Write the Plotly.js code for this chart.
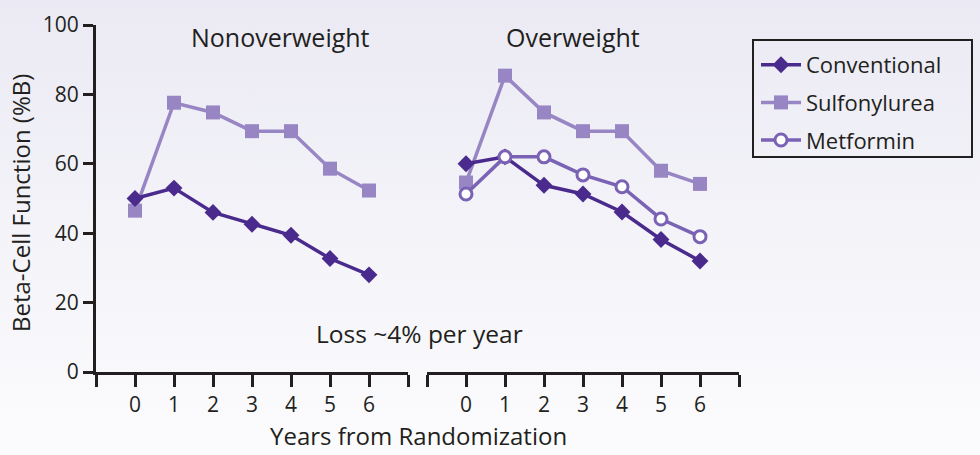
<!DOCTYPE html>
<html>
<head>
<meta charset="utf-8">
<script src="https://cdn.plot.ly/plotly-3.0.1.min.js"></script>
<style>
  html, body { margin: 0; padding: 0; }
  body { width: 980px; height: 455px; background: linear-gradient(to bottom, #ebeaf4 0%, #f4f4f9 55%, #fcfcfe 100%); }
  #chart { width: 980px; height: 455px; }
</style>
</head>
<body>
<div id="chart"></div>
<script>
// ---- data ----
const years = [0, 1, 2, 3, 4, 5, 6];
const tickVals = [-1, 0, 1, 2, 3, 4, 5, 6, 7];
const tickText = ['', '0', '1', '2', '3', '4', '5', '6', ''];
const yTicks = [0, 20, 40, 60, 80, 100];

const nonOverConventional = [50, 53, 46, 42.6, 39.4, 32.7, 28];
const nonOverSulfonylurea = [46.5, 77.6, 74.8, 69.4, 69.4, 58.6, 52.3];

const overConventional = [60, 62, 53.8, 51.3, 46.1, 38.2, 32];
const overSulfonylurea = [54.6, 85.4, 74.8, 69.4, 69.4, 58, 54.2];
const overMetformin = [51.3, 62, 62, 56.8, 53.4, 44.1, 39];

const seriesNames = ['Conventional', 'Sulfonylurea', 'Metformin'];
const panelTitles = ['Nonoverweight', 'Overweight'];
const noteText = 'Loss ~4% per year';
const xTitle = 'Years from Randomization';
const yTitle = 'Beta-Cell Function (%B)';

// ---- styles ----
const cConv = '#4a2a8c';
const cSulf = '#9886c4';
const cMet = '#7a62b4';
const ink = '#231f20';
const FONT = '"Open Sans", "Noto Sans", sans-serif';

const styConv = { mode: 'lines+markers', line: { color: cConv, width: 3.5 }, marker: { symbol: 'diamond', size: 13, color: cConv } };
const stySulf = { mode: 'lines+markers', line: { color: cSulf, width: 3.5 }, marker: { symbol: 'square', size: 14, color: cSulf } };
const styMet = { mode: 'lines+markers', line: { color: cMet, width: 3.5 }, marker: { symbol: 'circle', size: 12, color: '#ffffff', line: { color: cMet, width: 3 } } };

const traces = [
  Object.assign({ x: years, y: nonOverSulfonylurea, xaxis: 'x', yaxis: 'y', name: seriesNames[1], legendgroup: 's', legendrank: 2 }, stySulf),
  Object.assign({ x: years, y: nonOverConventional, xaxis: 'x', yaxis: 'y', name: seriesNames[0], legendgroup: 'c', legendrank: 1 }, styConv),
  Object.assign({ x: years, y: overSulfonylurea, xaxis: 'x2', yaxis: 'y', name: seriesNames[1], legendgroup: 's', showlegend: false }, stySulf),
  Object.assign({ x: years, y: overConventional, xaxis: 'x2', yaxis: 'y', name: seriesNames[0], legendgroup: 'c', showlegend: false }, styConv),
  Object.assign({ x: years, y: overMetformin, xaxis: 'x2', yaxis: 'y', name: seriesNames[2], legendgroup: 'm', legendrank: 3 }, styMet)
];

const W = 980, H = 455;
const L = 96, R = 241, T = 25, B = 83;
const pw = W - L - R, ph = H - T - B;
const px = v => (v - L) / pw;
const py = v => (H - B - v) / ph;

const xCommon = {
  range: [-1, 7], tickvals: tickVals, ticktext: tickText,
  showline: true, linewidth: 3, linecolor: ink,
  ticks: 'outside', ticklen: 12, tickwidth: 3, tickcolor: ink,
  showgrid: false, zeroline: false, fixedrange: true,
  tickfont: { family: FONT, size: 21, color: ink }
};

const layout = {
  width: W, height: H,
  margin: { l: L, r: R, t: T, b: B },
  paper_bgcolor: 'rgba(0,0,0,0)', plot_bgcolor: 'rgba(0,0,0,0)',
  font: { family: FONT, color: ink },
  xaxis: Object.assign({ domain: [0, px(408)], anchor: 'y' }, xCommon),
  xaxis2: Object.assign({ domain: [px(427), 1], anchor: 'y' }, xCommon),
  yaxis: {
    range: [0, 100], tickvals: yTicks,
    showline: true, linewidth: 3, linecolor: ink,
    ticks: 'outside', ticklen: 10, tickwidth: 3, tickcolor: ink,
    showgrid: false, zeroline: false, fixedrange: true,
    tickfont: { family: FONT, size: 21, color: ink }
  },
  showlegend: true,
  legend: {
    x: px(756), y: py(44), xanchor: 'left', yanchor: 'top',
    bgcolor: 'rgba(0,0,0,0)', borderwidth: 0,
    font: { family: FONT, size: 22, color: ink },
    tracegroupgap: 6, itemwidth: 40
  },
  shapes: [
    { type: 'rect', xref: 'paper', yref: 'paper', x0: px(753), x1: px(972), y0: py(157), y1: py(40), line: { color: ink, width: 2 } }
  ],
  annotations: [
    { text: panelTitles[0], x: px(280.5), y: py(37), xref: 'paper', yref: 'paper', showarrow: false, xanchor: 'center', yanchor: 'middle', font: { family: FONT, size: 25, color: ink } },
    { text: panelTitles[1], x: px(573), y: py(37), xref: 'paper', yref: 'paper', showarrow: false, xanchor: 'center', yanchor: 'middle', font: { family: FONT, size: 25, color: ink } },
    { text: noteText, x: px(419.5), y: py(333), xref: 'paper', yref: 'paper', showarrow: false, xanchor: 'center', yanchor: 'middle', font: { family: FONT, size: 24.5, color: ink } },
    { text: xTitle, x: px(418), y: py(435), xref: 'paper', yref: 'paper', showarrow: false, xanchor: 'center', yanchor: 'middle', font: { family: FONT, size: 24, color: ink } },
    { text: yTitle, x: px(20), y: py(203), xref: 'paper', yref: 'paper', showarrow: false, xanchor: 'center', yanchor: 'middle', textangle: -90, font: { family: FONT, size: 24, color: ink } }
  ]
};

Plotly.newPlot('chart', traces, layout, { displayModeBar: false, staticPlot: true });
</script>
</body>
</html>
